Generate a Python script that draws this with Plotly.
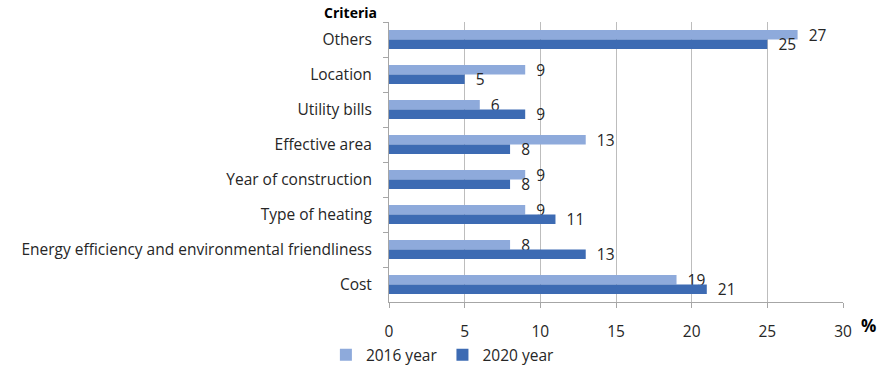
import plotly.graph_objects as go

# Selection criteria, listed top to bottom
criteria = [
    "Others",
    "Location",
    "Utility bills",
    "Effective area",
    "Year of construction",
    "Type of heating",
    "Energy efficiency and environmental friendliness",
    "Cost",
]
share_2016 = [27, 9, 6, 13, 9, 9, 8, 19]
share_2020 = [25, 5, 9, 8, 8, 11, 13, 21]
x_ticks = [0, 5, 10, 15, 20, 25, 30]

FONT = "Open Sans"
TEXT = "#262626"
AXIS = "#a6a6a6"
FS = 15.5

fig = go.Figure()
for name, vals, color in [("2016 year", share_2016, "#8eaadb"),
                          ("2020 year", share_2020, "#3d6bb3")]:
    fig.add_trace(go.Bar(
        y=criteria, x=vals, orientation="h", name=name,
        marker=dict(color=color, line=dict(width=0)),
        text=vals, texttemplate="  %{x}", textposition="outside",
        constraintext="none",
        textfont=dict(size=FS, color=TEXT, family=FONT), cliponaxis=False,
    ))

fig.update_layout(
    width=882, height=370,
    margin=dict(l=389, r=39, t=22, b=68, autoexpand=False),
    paper_bgcolor="white", plot_bgcolor="white",
    barmode="group", bargap=0.46, bargroupgap=0,
    font=dict(family=FONT, size=FS, color=TEXT),
    showlegend=True,
    legend=dict(
        orientation="h", x=-0.139, xanchor="left", y=-0.19, yanchor="middle",
        font=dict(size=FS, color=TEXT, family=FONT), traceorder="normal",
        itemwidth=30, bgcolor="rgba(0,0,0,0)",
    ),
    xaxis=dict(
        range=[0, 30], tickvals=x_ticks, showgrid=True, gridcolor="#bdbdbd",
        gridwidth=1, zeroline=False, showline=True, linecolor=AXIS,
        ticks="outside", ticklen=5, tickcolor=AXIS, ticklabelstandoff=10,
        tickfont=dict(size=FS, color=TEXT, family=FONT),
    ),
    yaxis=dict(
        categoryorder="array", categoryarray=criteria, autorange="reversed",
        showline=True, linecolor=AXIS, ticks="outside", ticklen=5,
        tickcolor=AXIS, tickson="boundaries", showgrid=False,
        ticklabelstandoff=13,
        tickfont=dict(size=FS, color=TEXT, family=FONT),
    ),
    annotations=[
        dict(text="<b>Criteria</b>", xref="paper", yref="paper", x=0, y=1,
             xanchor="right", yanchor="bottom", xshift=-10, yshift=-2,
             showarrow=False, font=dict(size=14, color="black", family=FONT)),
        dict(text="<b>%</b>", xref="paper", yref="paper", x=1, y=0,
             xanchor="left", yanchor="middle", xshift=16, yshift=-23,
             showarrow=False, font=dict(size=17, color="black", family=FONT)),
    ],
)

fig.write_html("out.html")
